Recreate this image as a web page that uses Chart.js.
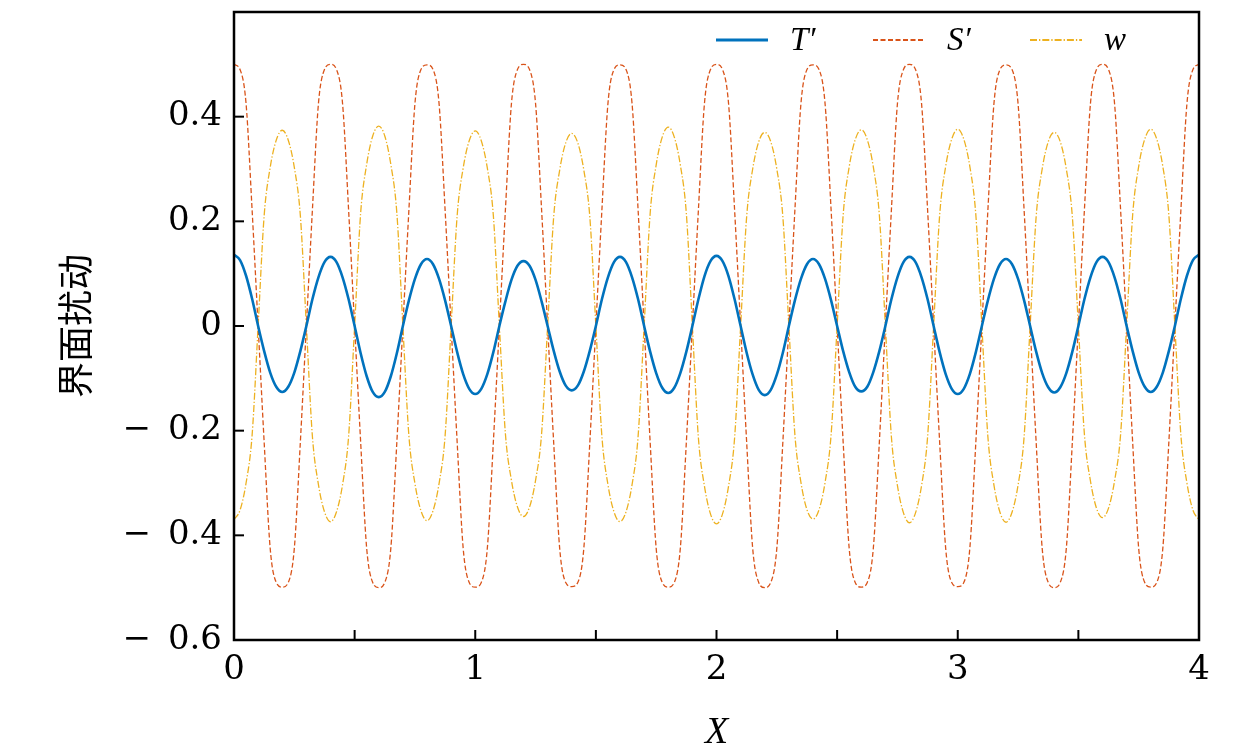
<!DOCTYPE html>
<html lang="zh">
<head>
  <meta charset="UTF-8">
  <title>界面扰动</title>
  <script src="https://cdn.jsdelivr.net/npm/chart.js"></script>
  <style>
    html, body {
      margin: 0;
      padding: 0;
      background: #fff;
    }
    #contenedor {
      width: 1260px;
      height: 756px;
    }
  </style>
</head>
<body>

<div id="contenedor">
  <canvas id="grafico" width="1260" height="756"></canvas>
</div>

<script>
  // paso de muestreo en X (0 ... 4)
  var pasoX = 0.025;

  // T' (una linea = un periodo de 0.4)
  var tPrima = [
    0.136, 0.126, 0.096, 0.052, 0, -0.048, -0.089, -0.116, -0.126, -0.116, -0.089, -0.048, 0, 0.051, 0.093, 0.122,
    0.132, 0.122, 0.093, 0.051, 0, -0.052, -0.096, -0.126, -0.136, -0.126, -0.096, -0.052, 0, 0.049, 0.090, 0.118,
    0.128, 0.118, 0.090, 0.049, 0, -0.050, -0.092, -0.120, -0.130, -0.120, -0.092, -0.050, 0, 0.047, 0.088, 0.115,
    0.124, 0.115, 0.088, 0.047, 0, -0.047, -0.087, -0.114, -0.123, -0.114, -0.087, -0.047, 0, 0.051, 0.093, 0.122,
    0.132, 0.122, 0.093, 0.051, 0, -0.049, -0.090, -0.118, -0.128, -0.118, -0.090, -0.049, 0, 0.051, 0.095, 0.124,
    0.134, 0.124, 0.095, 0.051, 0, -0.051, -0.093, -0.122, -0.132, -0.122, -0.093, -0.051, 0, 0.049, 0.090, 0.118,
    0.128, 0.118, 0.090, 0.049, 0, -0.048, -0.088, -0.116, -0.125, -0.116, -0.088, -0.048, 0, 0.051, 0.093, 0.122,
    0.132, 0.122, 0.093, 0.051, 0, -0.050, -0.092, -0.120, -0.130, -0.120, -0.092, -0.050, 0, 0.049, 0.090, 0.118,
    0.128, 0.118, 0.090, 0.049, 0, -0.049, -0.090, -0.117, -0.127, -0.117, -0.090, -0.049, 0, 0.051, 0.093, 0.122,
    0.132, 0.122, 0.093, 0.051, 0, -0.048, -0.089, -0.116, -0.126, -0.116, -0.089, -0.048, 0, 0.052, 0.096, 0.126,
    0.136
  ];

  // S'
  var sPrima = [
    0.500, 0.490, 0.425, 0.222, 0, -0.222, -0.425, -0.490, -0.499, -0.490, -0.425, -0.222, 0, 0.222, 0.425, 0.490,
    0.500, 0.490, 0.425, 0.222, 0, -0.222, -0.425, -0.490, -0.500, -0.490, -0.425, -0.222, 0, 0.222, 0.425, 0.490,
    0.499, 0.490, 0.425, 0.222, 0, -0.222, -0.425, -0.490, -0.499, -0.490, -0.425, -0.222, 0, 0.222, 0.425, 0.490,
    0.500, 0.490, 0.425, 0.222, 0, -0.222, -0.425, -0.490, -0.498, -0.490, -0.425, -0.222, 0, 0.222, 0.425, 0.490,
    0.499, 0.490, 0.425, 0.222, 0, -0.222, -0.425, -0.490, -0.499, -0.490, -0.425, -0.222, 0, 0.222, 0.425, 0.490,
    0.500, 0.490, 0.425, 0.222, 0, -0.222, -0.425, -0.490, -0.500, -0.490, -0.425, -0.222, 0, 0.222, 0.425, 0.490,
    0.499, 0.490, 0.425, 0.222, 0, -0.222, -0.425, -0.490, -0.499, -0.490, -0.425, -0.222, 0, 0.222, 0.425, 0.490,
    0.500, 0.490, 0.425, 0.222, 0, -0.222, -0.425, -0.490, -0.498, -0.490, -0.425, -0.222, 0, 0.222, 0.425, 0.490,
    0.499, 0.490, 0.425, 0.222, 0, -0.222, -0.425, -0.490, -0.500, -0.490, -0.425, -0.222, 0, 0.222, 0.425, 0.490,
    0.500, 0.490, 0.425, 0.222, 0, -0.222, -0.425, -0.490, -0.499, -0.490, -0.425, -0.222, 0, 0.222, 0.425, 0.490,
    0.500
  ];

  // w
  var wVel = [
    -0.370, -0.352, -0.300, -0.209, 0, 0.211, 0.303, 0.355, 0.374, 0.355, 0.303, 0.211, 0, -0.211, -0.303, -0.355,
    -0.374, -0.355, -0.303, -0.211, 0, 0.216, 0.309, 0.363, 0.382, 0.363, 0.309, 0.216, 0, -0.210, -0.301, -0.353,
    -0.372, -0.353, -0.301, -0.210, 0, 0.211, 0.302, 0.354, 0.373, 0.354, 0.302, 0.211, 0, -0.206, -0.295, -0.346,
    -0.364, -0.346, -0.295, -0.206, 0, 0.208, 0.298, 0.350, 0.368, 0.350, 0.298, 0.208, 0, -0.211, -0.303, -0.355,
    -0.374, -0.355, -0.303, -0.211, 0, 0.215, 0.308, 0.361, 0.380, 0.361, 0.308, 0.215, 0, -0.214, -0.306, -0.359,
    -0.378, -0.359, -0.306, -0.214, 0, 0.209, 0.300, 0.352, 0.370, 0.352, 0.300, 0.209, 0, -0.208, -0.299, -0.351,
    -0.369, -0.351, -0.299, -0.208, 0, 0.212, 0.304, 0.356, 0.375, 0.356, 0.304, 0.212, 0, -0.212, -0.305, -0.357,
    -0.376, -0.357, -0.305, -0.212, 0, 0.212, 0.305, 0.357, 0.376, 0.357, 0.305, 0.212, 0, -0.212, -0.304, -0.356,
    -0.375, -0.356, -0.304, -0.212, 0, 0.209, 0.300, 0.352, 0.370, 0.352, 0.300, 0.209, 0, -0.207, -0.296, -0.348,
    -0.366, -0.348, -0.296, -0.207, 0, 0.212, 0.305, 0.357, 0.376, 0.357, 0.305, 0.212, 0, -0.209, -0.300, -0.352,
    -0.370
  ];

  var nombres = ["T\u2032", "S\u2032", "w"];

  function aPuntos(valores) {
    return valores.map(function (v, i) { return { x: i * pasoX, y: v }; });
  }

  var fuenteNum = "'DejaVu Serif', serif";
  var fuenteIt = "'Liberation Serif', 'Times New Roman', serif";

  // marcas hacia dentro + marco negro
  var marco = {
    id: 'marco',
    afterDraw: function (chart) {
      var ctx = chart.ctx;
      var a = chart.chartArea;
      var sx = chart.scales.x, sy = chart.scales.y;
      ctx.save();
      ctx.strokeStyle = '#000';
      ctx.lineWidth = 2;
      sx.ticks.forEach(function (t) {
        var px = sx.getPixelForValue(t.value);
        if (px <= a.left + 1 || px >= a.right - 1) return;
        ctx.beginPath();
        ctx.moveTo(px, a.bottom);
        ctx.lineTo(px, a.bottom - 10);
        ctx.stroke();
      });
      sy.ticks.forEach(function (t) {
        var py = sy.getPixelForValue(t.value);
        if (py <= a.top + 1 || py >= a.bottom - 1) return;
        ctx.beginPath();
        ctx.moveTo(a.left, py);
        ctx.lineTo(a.left + 10, py);
        ctx.stroke();
      });
      ctx.lineWidth = 2.5;
      ctx.strokeRect(a.left, a.top, a.right - a.left, a.bottom - a.top);
      ctx.restore();
    }
  };

  // leyenda dentro del area, arriba a la derecha
  var leyenda = {
    id: 'leyenda',
    afterDatasetsDraw: function (chart) {
      var ctx = chart.ctx;
      var a = chart.chartArea;
      var inicio = [a.right - 483, a.right - 326, a.right - 169];
      var y = a.top + 28;
      ctx.save();
      chart.data.datasets.forEach(function (ds, i) {
        ctx.strokeStyle = ds.borderColor;
        ctx.lineWidth = ds.borderWidth + 0.6;
        ctx.setLineDash(ds.borderDash || []);
        ctx.beginPath();
        ctx.moveTo(inicio[i], y);
        ctx.lineTo(inicio[i] + 52, y);
        ctx.stroke();
        ctx.setLineDash([]);
        ctx.fillStyle = '#000';
        ctx.font = "italic 33px " + fuenteIt;
        ctx.textBaseline = 'middle';
        ctx.fillText(ds.label, inicio[i] + 74, y + 1);
      });
      ctx.restore();
    }
  };

  var ctx = document.getElementById('grafico').getContext('2d');

  var grafico = new Chart(ctx, {
    type: 'line',
    data: {
      datasets: [
        {
          label: nombres[0],
          data: aPuntos(tPrima),
          borderColor: '#0072BD',
          borderWidth: 2.6,
          pointRadius: 0,
          cubicInterpolationMode: 'monotone'
        },
        {
          label: nombres[1],
          data: aPuntos(sPrima),
          borderColor: '#D95319',
          borderWidth: 1.3,
          borderDash: [5, 2.5],
          pointRadius: 0,
          cubicInterpolationMode: 'monotone'
        },
        {
          label: nombres[2],
          data: aPuntos(wVel),
          borderColor: '#EDB120',
          borderWidth: 1.3,
          borderDash: [7, 2, 1.3, 2],
          pointRadius: 0,
          cubicInterpolationMode: 'monotone'
        }
      ]
    },
    options: {
      responsive: false,
      animation: false,
      devicePixelRatio: 1,
      layout: {
        padding: { top: 12, right: 61, left: 0, bottom: 0 }
      },
      plugins: {
        legend: { display: false },
        tooltip: { enabled: false }
      },
      scales: {
        x: {
          type: 'linear',
          min: 0,
          max: 4,
          grid: { display: false, drawTicks: false },
          border: { display: false },
          ticks: {
            stepSize: 0.5,
            autoSkip: false,
            maxRotation: 0,
            padding: 10,
            color: '#000',
            font: { family: fuenteNum, size: 34 },
            callback: function (v) {
              return Math.abs(v - Math.round(v)) < 1e-6 ? String(Math.round(v)) : '';
            }
          },
          title: {
            display: true,
            text: 'X',
            color: '#000',
            font: { family: fuenteIt, size: 38, style: 'italic' },
            padding: { top: 0, bottom: 0 }
          },
          afterFit: function (s) {
            s.height = 116;
            s.paddingLeft = 0;
            s.paddingRight = 0;
          }
        },
        y: {
          min: -0.6,
          max: 0.6,
          grid: { display: false, drawTicks: false },
          border: { display: false },
          ticks: {
            stepSize: 0.2,
            padding: 12,
            color: '#000',
            font: { family: fuenteNum, size: 34 },
            callback: function (v) {
              if (v > 0.5) return '';
              if (Math.abs(v) < 1e-9) return '0';
              var txt = Math.abs(v).toFixed(1);
              return v < 0 ? '\u2212\u2002' + txt : txt;
            }
          },
          title: {
            display: true,
            text: '界面扰动',
            color: '#000',
            font: { family: "'Noto Sans CJK SC', sans-serif", size: 36 },
            padding: { top: 54, bottom: 0 }
          },
          afterFit: function (s) {
            s.width = 234;
            s.paddingTop = 0;
            s.paddingBottom = 0;
          }
        }
      }
    },
    plugins: [marco, leyenda]
  });
</script>

</body>
</html>
